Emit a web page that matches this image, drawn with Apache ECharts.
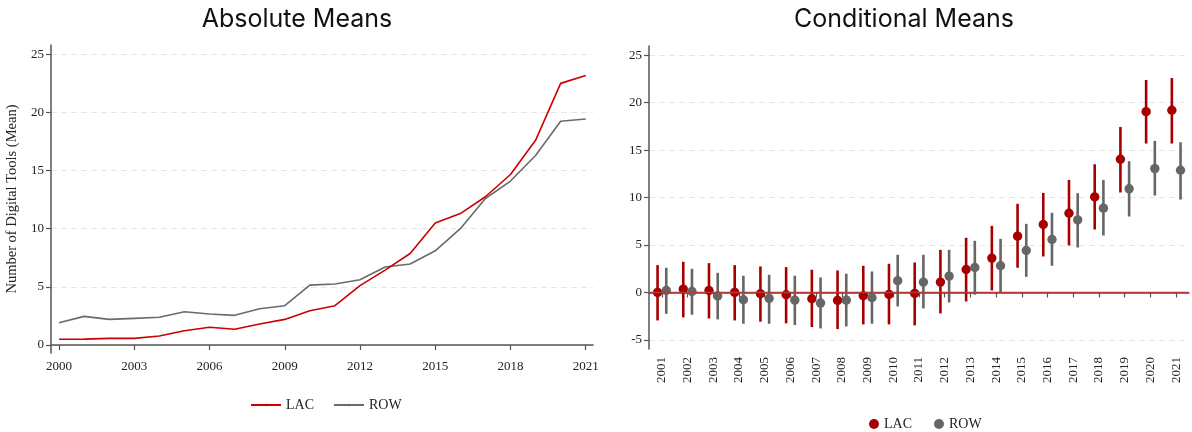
<!DOCTYPE html>
<html>
<head>
<meta charset="utf-8">
<script src="https://cdn.jsdelivr.net/npm/echarts@6/dist/echarts.min.js"></script>
<style>
  html, body { margin: 0; padding: 0; background: #fff; }
  #chart { width: 1192px; height: 432px; }
</style>
</head>
<body>
<div id="chart"></div>
<script>
// Absolute means by year
const years = [2000, 2001, 2002, 2003, 2004, 2005, 2006, 2007, 2008, 2009, 2010,
               2011, 2012, 2013, 2014, 2015, 2016, 2017, 2018, 2019, 2020, 2021];
const lacAbs = [0.49, 0.50, 0.57, 0.57, 0.77, 1.23, 1.52, 1.35, 1.80, 2.20, 2.95,
                3.38, 5.10, 6.44, 7.87, 10.50, 11.30, 12.75, 14.66, 17.60, 22.50, 23.17];
const rowAbs = [1.92, 2.46, 2.20, 2.29, 2.38, 2.86, 2.66, 2.55, 3.12, 3.38, 5.15,
                5.24, 5.61, 6.70, 6.96, 8.10, 10.00, 12.60, 14.10, 16.30, 19.24, 19.44];
const absYearTicks = [2000, 2003, 2006, 2009, 2012, 2015, 2018, 2021];
const absValueTicks = [0, 5, 10, 15, 20, 25];

// Conditional means (point estimate with confidence interval)
const condYears = ['2001', '2002', '2003', '2004', '2005', '2006', '2007', '2008', '2009', '2010', '2011',
                   '2012', '2013', '2014', '2015', '2016', '2017', '2018', '2019', '2020', '2021'];
const lacMean = [0.00, 0.35, 0.21, 0.00, -0.14, -0.24, -0.66, -0.84, -0.35, -0.21, -0.10,
                 1.09, 2.42, 3.62, 5.93, 7.16, 8.35, 10.07, 14.04, 19.05, 19.20];
const lacLo   = [-2.95, -2.63, -2.74, -2.95, -3.08, -3.26, -3.65, -3.86, -3.37, -3.37, -3.47,
                 -2.21, -0.95, 0.21, 2.60, 3.79, 4.95, 6.63, 10.53, 15.69, 15.69];
const lacHi   = [2.88, 3.23, 3.09, 2.88, 2.74, 2.67, 2.39, 2.32, 2.81, 3.02, 3.16,
                 4.49, 5.76, 7.02, 9.34, 10.49, 11.86, 13.51, 17.44, 22.39, 22.60];
const rowMean = [0.21, 0.10, -0.38, -0.77, -0.63, -0.81, -1.12, -0.81, -0.56, 1.23, 1.09,
                 1.72, 2.63, 2.81, 4.42, 5.58, 7.65, 8.88, 10.92, 13.05, 12.88];
const rowLo   = [-2.25, -2.35, -2.84, -3.30, -3.30, -3.44, -3.79, -3.58, -3.30, -1.47, -1.68,
                 -1.05, -0.24, 0.00, 1.65, 2.81, 4.74, 6.00, 8.00, 10.21, 9.79];
const rowHi   = [2.60, 2.49, 2.07, 1.76, 1.86, 1.76, 1.58, 1.97, 2.21, 3.97, 3.97,
                 4.49, 5.44, 5.65, 7.23, 8.39, 10.46, 11.86, 13.83, 15.97, 15.83];
const condValueTicks = [-5, 0, 5, 10, 15, 20, 25];

const SERIF = '"Liberation Serif", "DejaVu Serif", serif';
const SANS = 'Inter, "Open Sans", sans-serif';
const TXT = '#222';
const AXIS = '#555';
const GRIDLINE = { show: true, lineStyle: { color: '#e6e6e6', type: [6, 4], width: 1 } };

function pairs(xs, ys) { return xs.map((x, i) => [x, ys[i]]); }

function ciRender(offset) {
  return function (params, api) {
    const c = api.coord([api.value(0), api.value(1)]);
    const lo = api.coord([api.value(0), api.value(2)]);
    const hi = api.coord([api.value(0), api.value(3)]);
    const x = c[0] + offset;
    const color = api.visual('color');
    return {
      type: 'group',
      children: [
        { type: 'line', shape: { x1: x, y1: lo[1], x2: x, y2: hi[1] },
          style: { stroke: color, lineWidth: 2.6 } },
        { type: 'circle', shape: { cx: x, cy: c[1], r: 4.7 },
          style: { fill: color } }
      ]
    };
  };
}

const chart = echarts.init(document.getElementById('chart'), null, { renderer: 'canvas' });

chart.setOption({
  animation: false,
  backgroundColor: '#fff',
  title: [
    { text: 'Absolute Means', left: 292, top: 2, textAlign: 'center',
      textStyle: { fontFamily: SANS, fontWeight: 'normal', fontSize: 25, color: '#111' } },
    { text: 'Conditional Means', left: 899, top: 2, textAlign: 'center',
      textStyle: { fontFamily: SANS, fontWeight: 'normal', fontSize: 25, color: '#111' } }
  ],
  legend: [
    { data: ['LAC', 'ROW'].map(n => ({ name: n })), left: 245, top: 393, itemWidth: 30, itemHeight: 3, itemGap: 19,
      textStyle: { fontFamily: SERIF, fontSize: 14, color: TXT } },
    { data: ['LAC c', 'ROW c'].map(n => ({ name: n, icon: 'circle' })), left: 864, top: 412, itemWidth: 10, itemHeight: 10, itemGap: 22,
      formatter: n => n.replace(' c', ''),
      textStyle: { fontFamily: SERIF, fontSize: 14, color: TXT } }
  ],
  grid: [
    { left: 51, right: 599, top: 45, bottom: 79 },
    { left: 649, right: 3, top: 46, bottom: 83 }
  ],
  xAxis: [
    { gridIndex: 0, type: 'value', min: 1999.68, max: 2021.29,
      axisLine: { lineStyle: { color: AXIS, width: 1.5 } },
      axisTick: { show: true, length: 5, customValues: absYearTicks, lineStyle: { color: AXIS, width: 1.2 } },
      axisLabel: { customValues: absYearTicks, formatter: v => String(v),
        fontFamily: SERIF, fontSize: 13, color: TXT, margin: 7 },
      splitLine: { show: false } },
    { gridIndex: 1, type: 'category', data: condYears, boundaryGap: true,
      axisLine: { lineStyle: { color: AXIS, width: 1.5 } },
      axisTick: { show: true, length: 5, alignWithLabel: true, lineStyle: { color: AXIS, width: 1.2 } },
      axisLabel: { rotate: 90, interval: 0, fontFamily: SERIF, fontSize: 13, color: TXT, margin: 8 },
      splitLine: { show: false } }
  ],
  yAxis: [
    { gridIndex: 0, type: 'value', min: -0.69, max: 25.8,
      name: 'Number of Digital Tools (Mean)', nameLocation: 'middle', nameGap: 31,
      nameTextStyle: { fontFamily: SERIF, fontSize: 14.5, color: TXT },
      axisLine: { show: true, lineStyle: { color: AXIS, width: 1.5 } },
      axisTick: { show: true, length: 5, customValues: absValueTicks, lineStyle: { color: AXIS, width: 1.2 } },
      axisLabel: { customValues: absValueTicks, fontFamily: SERIF, fontSize: 13, color: TXT, margin: 7 },
      splitLine: GRIDLINE },
    { gridIndex: 1, type: 'value', min: -5.96, max: 25.97,
      axisLine: { show: true, lineStyle: { color: AXIS, width: 1.5 } },
      axisTick: { show: true, length: 5, customValues: condValueTicks, lineStyle: { color: AXIS, width: 1.2 } },
      axisLabel: { customValues: condValueTicks, fontFamily: SERIF, fontSize: 13, color: TXT, margin: 7 },
      splitLine: GRIDLINE }
  ],
  series: [
    { name: 'LAC', type: 'line', xAxisIndex: 0, yAxisIndex: 0, data: pairs(years, lacAbs),
      symbol: 'none', itemStyle: { color: '#cc0000' }, lineStyle: { color: '#cc0000', width: 1.6 }, z: 3 },
    { name: 'ROW', type: 'line', xAxisIndex: 0, yAxisIndex: 0, data: pairs(years, rowAbs),
      symbol: 'none', itemStyle: { color: '#6a6a6a' }, lineStyle: { color: '#6a6a6a', width: 1.6 }, z: 2 },
    { name: 'zero', type: 'line', xAxisIndex: 1, yAxisIndex: 1, data: [], z: 1,
      markLine: { silent: true, symbol: 'none', label: { show: false },
        lineStyle: { color: '#b53a3a', width: 1.4, type: 'solid' }, data: [{ yAxis: 0 }] } },
    { name: 'LAC c', type: 'custom', xAxisIndex: 1, yAxisIndex: 1, z: 3,
      itemStyle: { color: '#a80000' },
      encode: { x: 0, y: [1, 2, 3] },
      data: condYears.map((y, i) => [i, lacMean[i], lacLo[i], lacHi[i]]),
      renderItem: ciRender(-4.3) },
    { name: 'ROW c', type: 'custom', xAxisIndex: 1, yAxisIndex: 1, z: 3,
      itemStyle: { color: '#666666' },
      encode: { x: 0, y: [1, 2, 3] },
      data: condYears.map((y, i) => [i, rowMean[i], rowLo[i], rowHi[i]]),
      renderItem: ciRender(4.4) }
  ]
});
</script>
</body>
</html>
